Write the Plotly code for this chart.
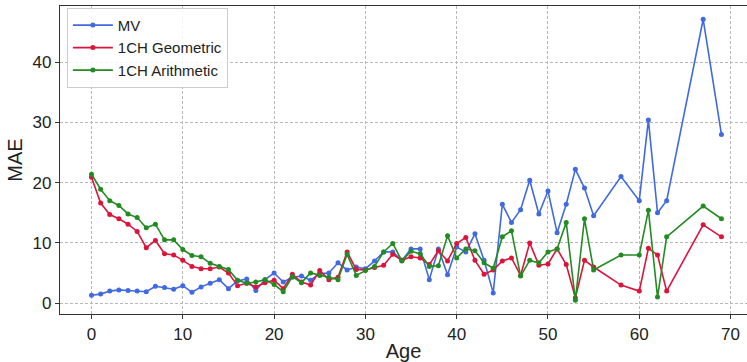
import plotly.graph_objects as go

ages = [0, 1, 2, 3, 4, 5, 6, 7, 8, 9, 10, 11, 12, 13, 14, 15, 16, 17, 18, 19,
        20, 21, 22, 23, 24, 25, 26, 27, 28, 29, 30, 31, 32, 33, 34, 35, 36, 37, 38, 39,
        40, 41, 42, 43, 44, 45, 46, 47, 48, 49, 50, 51, 52, 53, 54, 55, 58, 60, 61, 62,
        63, 67, 69]

mae_mv = [1.3, 1.5, 2.0, 2.2, 2.1, 2.0, 1.9, 2.8, 2.6, 2.3, 2.9, 1.8, 2.7, 3.3, 3.9, 2.4, 3.7, 4.0, 2.1, 3.9,
          5.0, 3.5, 4.3, 4.5, 3.8, 4.9, 5.0, 6.7, 5.5, 6.0, 5.7, 7.0, 8.5, 8.5, 7.1, 9.0, 9.0, 3.9, 9.0, 4.7,
          9.3, 8.5, 11.5, 7.1, 1.7, 16.4, 13.4, 15.5, 20.4, 14.8, 18.6, 11.7, 16.4, 22.2, 19.1, 14.5, 21.0, 17.0, 30.4, 15.0,
          17.0, 47.1, 28.0]

mae_geo = [20.9, 16.6, 14.7, 14.0, 13.1, 11.9, 9.2, 10.4, 8.2, 8.0, 7.1, 6.1, 5.7, 5.7, 6.0, 5.0, 2.9, 3.3, 2.7, 3.4,
           3.8, 2.4, 4.8, 3.5, 3.0, 5.4, 3.9, 4.3, 8.5, 5.6, 5.5, 5.9, 6.3, 8.1, 7.1, 7.7, 7.5, 6.4, 8.7, 7.0,
           9.9, 10.9, 7.1, 4.8, 5.5, 7.0, 7.5, 4.6, 10.0, 6.3, 6.5, 9.0, 6.4, 0.9, 7.1, 6.0, 3.0, 2.0, 9.1, 8.0,
           2.0, 13.0, 11.0]

mae_ari = [21.4, 18.9, 17.0, 16.2, 14.8, 14.2, 12.5, 13.1, 10.5, 10.5, 8.9, 7.9, 7.7, 6.6, 6.1, 5.6, 3.8, 3.3, 3.5, 3.9,
           3.1, 1.9, 4.4, 3.4, 5.0, 4.6, 4.3, 3.9, 8.1, 4.6, 5.4, 6.1, 8.5, 9.9, 7.0, 8.6, 8.2, 6.1, 6.2, 11.2,
           7.5, 9.0, 8.7, 6.7, 5.8, 11.0, 12.0, 4.5, 7.1, 6.7, 8.5, 9.0, 13.4, 0.5, 14.0, 5.5, 8.0, 8.0, 15.4, 1.0,
           11.0, 16.1, 14.0]

series_names = ["MV", "1CH Geometric", "1CH Arithmetic"]
series_colors = ["#4169E1", "#DC143C", "#228B22"]
x_ticks = [0, 10, 20, 30, 40, 50, 60, 70]
y_ticks = [0, 10, 20, 30, 40]

FONT = "Liberation Sans, Arial, sans-serif"

fig = go.Figure()
for name, vals, col in zip(series_names, [mae_mv, mae_geo, mae_ari], series_colors):
    fig.add_trace(go.Scatter(
        x=ages, y=vals, name=name, mode="lines+markers",
        line=dict(color=col, width=1.6),
        marker=dict(color=col, size=5),
    ))

axis_common = dict(
    showline=True, linecolor="#333333", linewidth=1.2,
    ticks="outside", ticklen=4, tickcolor="#333333", tickwidth=1,
    showgrid=True, gridcolor="#b8b8b8", griddash="3px,2px", gridwidth=0.8,
    zeroline=False,
    tickfont=dict(family=FONT, size=17, color="#222"),
)

fig.update_layout(
    width=747, height=362,
    margin=dict(l=60, r=0, t=6, b=48),
    plot_bgcolor="white", paper_bgcolor="white",
    font=dict(family=FONT, color="#222"),
    xaxis=dict(range=[-3.45, 71.8], tickvals=x_ticks, mirror=True,
               title=dict(text="Age", font=dict(family=FONT, size=20), standoff=2),
               **axis_common),
    yaxis=dict(range=[-1.8, 49.3], tickvals=y_ticks, mirror=False,
               title=dict(text="MAE", font=dict(family=FONT, size=20), standoff=4),
               **axis_common),
    legend=dict(x=0.010, y=0.994, xanchor="left", yanchor="top",
                bgcolor="rgba(255,255,255,0.85)", bordercolor="#cccccc", borderwidth=1,
                font=dict(family=FONT, size=15, color="#222"),
                itemwidth=40),
    showlegend=True,
)

fig.write_html("out.html",
               config={"displayModeBar": False},
               post_script="document.body.style.margin='0px';document.body.style.padding='0px';")
